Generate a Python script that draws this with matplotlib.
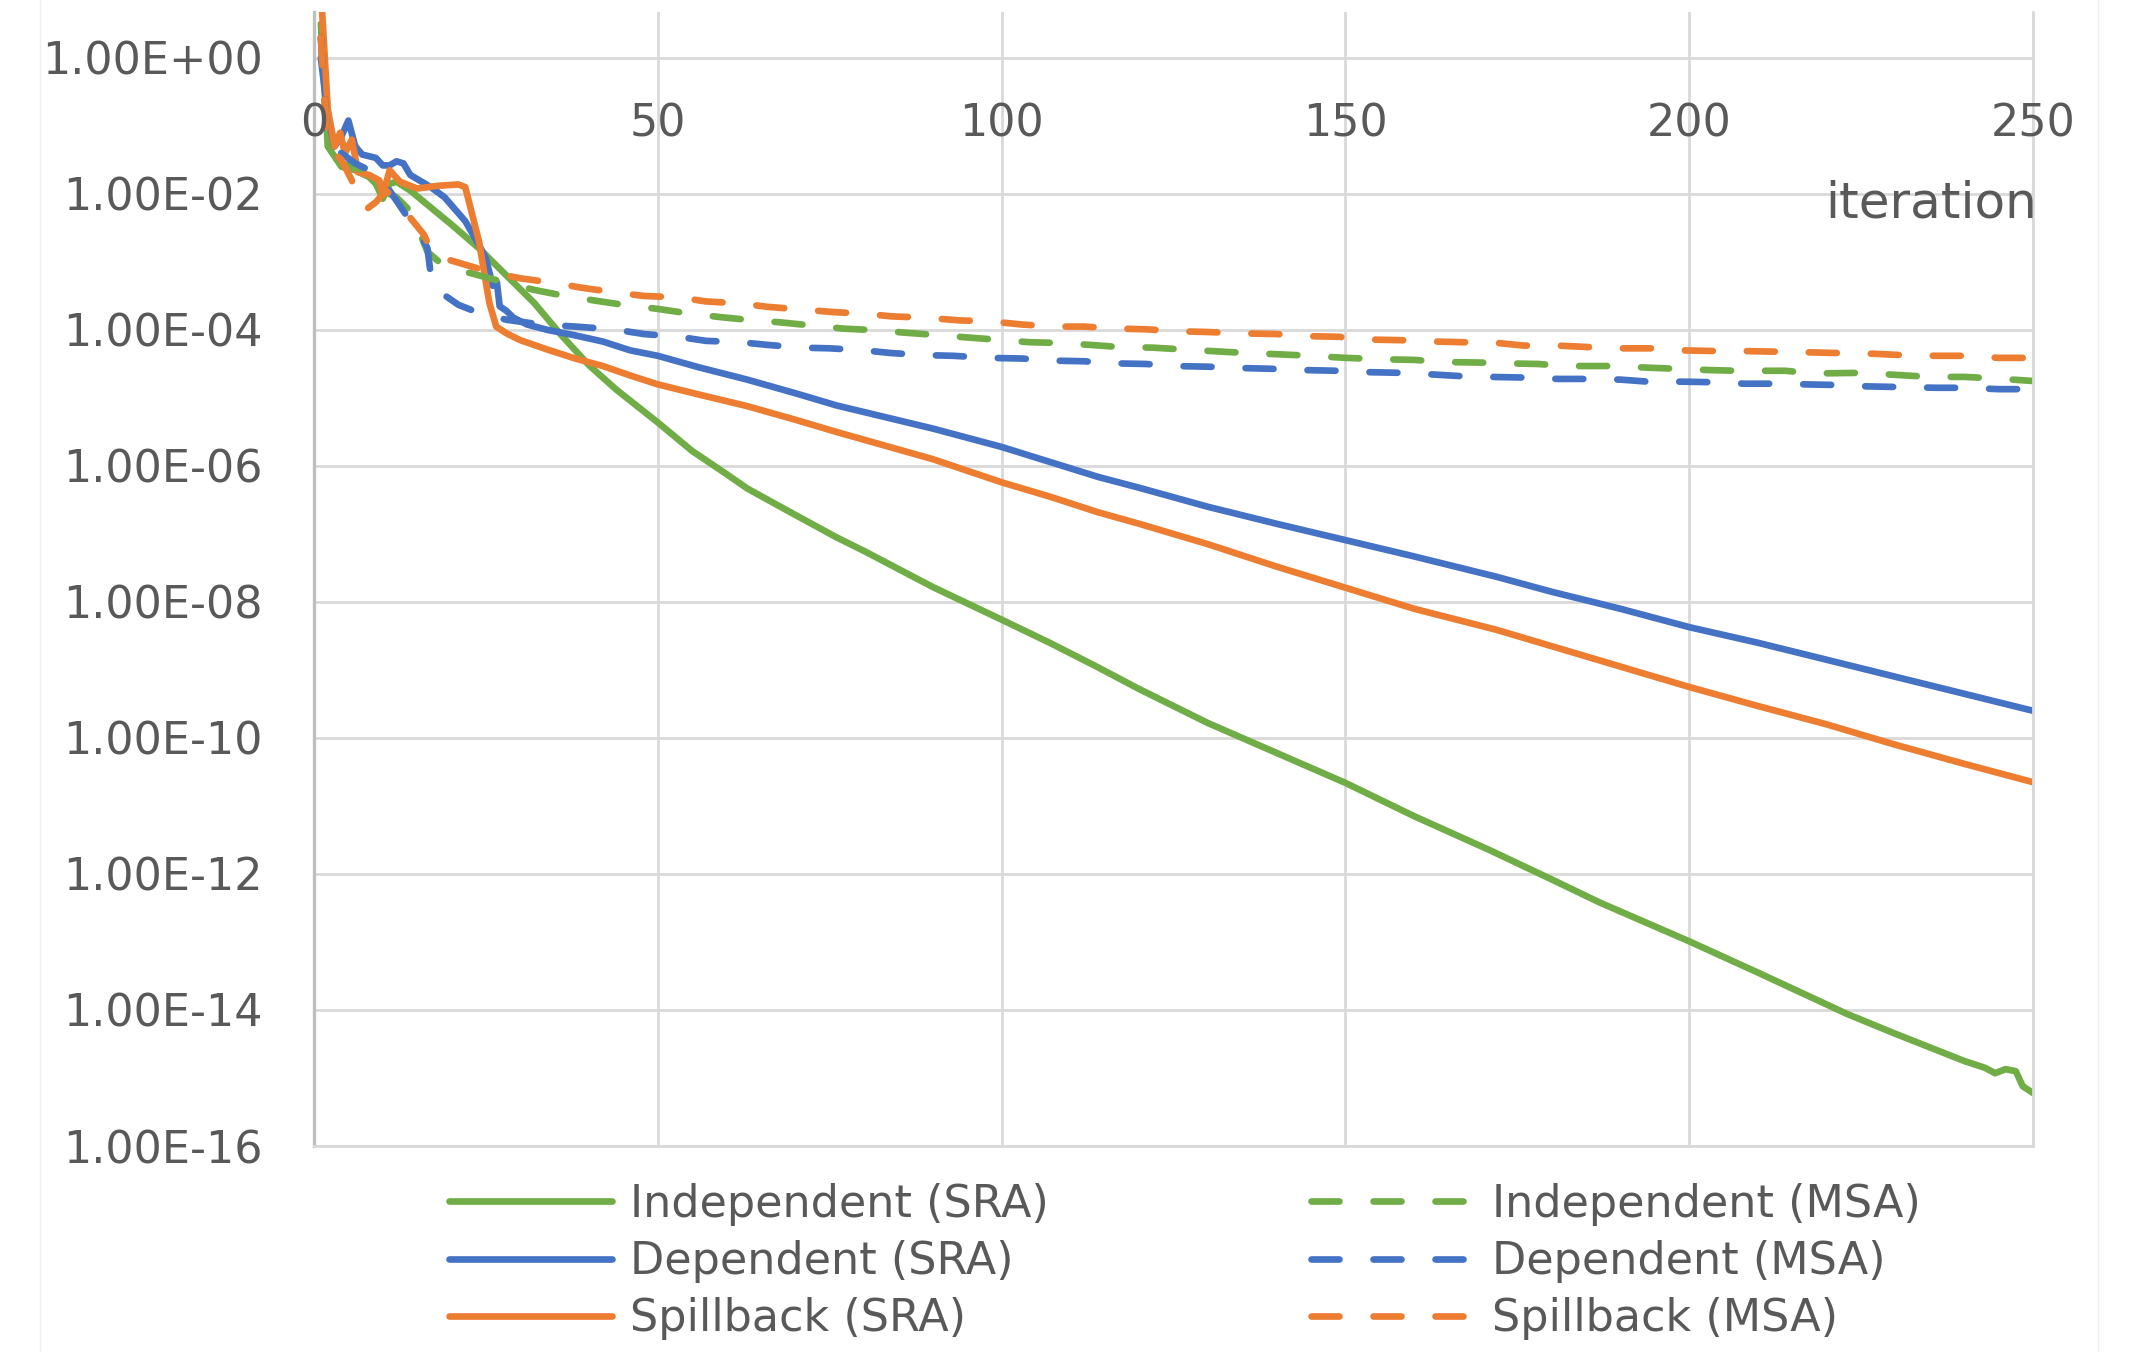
import numpy as np
import matplotlib
matplotlib.use("Agg")
import matplotlib.pyplot as plt
from matplotlib.lines import Line2D
from matplotlib.ticker import NullLocator

W, H, DPI = 2132, 1352, 100

# ---------------- data (values are log10 of the gap) ----------------
x_ticks = [0, 50, 100, 150, 200, 250]
y_tick_exps = [0, -2, -4, -6, -8, -10, -12, -14, -16]
y_tick_labels = ["1.00E+00", "1.00E-02", "1.00E-04", "1.00E-06", "1.00E-08",
                 "1.00E-10", "1.00E-12", "1.00E-14", "1.00E-16"]

ind_sra_iter = [1, 2, 3, 4, 6, 8, 9, 10, 11, 12, 14, 17, 20, 24, 28, 32, 36, 40, 44, 48,
                50, 55, 60, 63, 70, 76, 80, 90, 100, 107, 114, 120, 130, 140, 150, 160,
                171, 180, 187, 200, 210, 223, 230, 240, 243, 244.5, 246, 247.5, 248.5, 250]
ind_sra_exp = [0.5, -1.3, -1.45, -1.6, -1.65, -1.75, -1.85, -2.07, -1.85, -1.82, -1.95,
               -2.2, -2.45, -2.8, -3.2, -3.6, -4.08, -4.52, -4.88, -5.2, -5.36, -5.78,
               -6.12, -6.33, -6.72, -7.05, -7.25, -7.78, -8.26, -8.6, -8.96, -9.28, -9.78,
               -10.22, -10.66, -11.15, -11.65, -12.08, -12.42, -12.99, -13.45, -14.06,
               -14.35, -14.75, -14.85, -14.93, -14.87, -14.9, -15.12, -15.22]

dep_sra_iter = [1, 2, 3, 4, 5, 6, 7, 9, 10, 11, 12, 13, 14, 17, 19, 22, 24, 25, 26, 26.6,
                27, 28, 29, 31, 34, 38, 42, 46, 50, 56, 63, 70, 76, 83, 90, 100, 107, 114,
                120, 130, 140, 150, 160, 172, 180, 190, 200, 210, 220, 230, 240, 250]
dep_sra_exp = [0.0, -0.85, -1.3, -1.15, -0.92, -1.3, -1.42, -1.47, -1.58, -1.58, -1.52,
               -1.55, -1.72, -1.9, -2.05, -2.4, -2.75, -2.95, -3.35, -3.3, -3.65, -3.72,
               -3.82, -3.92, -4.0, -4.08, -4.17, -4.3, -4.38, -4.55, -4.73, -4.93, -5.11,
               -5.28, -5.45, -5.72, -5.94, -6.16, -6.32, -6.6, -6.85, -7.09, -7.33, -7.63,
               -7.85, -8.1, -8.37, -8.6, -8.85, -9.1, -9.35, -9.6]

spill_sra_iter = [1, 2, 3, 3.8, 4.5, 5.5, 6.4, 8, 9.5, 10, 11, 12.5, 15, 18, 21, 22, 24,
                  25.5, 26.5, 28, 30, 34, 38, 42, 46, 50, 56, 63, 70, 76, 83, 90, 100, 107,
                  114, 120, 130, 140, 150, 160, 172, 180, 190, 200, 210, 220, 230, 240, 250]
spill_sra_exp = [1.0, -0.75, -1.3, -1.1, -1.4, -1.2, -1.68, -1.72, -1.8, -2.02, -1.65,
                 -1.82, -1.92, -1.88, -1.86, -1.9, -2.7, -3.6, -3.95, -4.05, -4.15, -4.29,
                 -4.42, -4.53, -4.67, -4.8, -4.95, -5.12, -5.32, -5.5, -5.7, -5.9, -6.24,
                 -6.45, -6.68, -6.85, -7.15, -7.48, -7.79, -8.1, -8.41, -8.65, -8.95, -9.25,
                 -9.53, -9.8, -10.1, -10.38, -10.65]

ind_msa_iter = [1, 2, 4, 6, 8, 10, 12, 14, 15.5, 16.5, 19, 23, 27, 32, 36, 41, 45, 50, 54,
                59, 63, 68, 72, 77, 81, 86, 90, 95, 99, 104, 108, 113, 117, 122, 127, 134,
                143, 150, 155, 160, 164, 170, 173, 178, 182, 188, 193, 198, 203, 207, 214,
                218, 225, 230, 235, 240, 244, 250]
ind_msa_exp = [0.3, -1.35, -1.55, -1.6, -1.7, -1.95, -2.05, -2.25, -2.6, -2.85, -3.07,
               -3.17, -3.28, -3.41, -3.49, -3.57, -3.63, -3.69, -3.75, -3.81, -3.85, -3.89,
               -3.93, -3.98, -4.0, -4.04, -4.07, -4.11, -4.14, -4.18, -4.19, -4.22, -4.25,
               -4.26, -4.29, -4.33, -4.37, -4.41, -4.43, -4.44, -4.47, -4.48, -4.49, -4.5,
               -4.53, -4.53, -4.55, -4.57, -4.59, -4.6, -4.6, -4.64, -4.63, -4.66, -4.69,
               -4.69, -4.71, -4.75]

dep_msa_iter = [1, 2, 4, 6, 8, 10, 12, 14, 16, 16.5, 17, 18, 21, 24, 28, 33, 38, 43.5, 48,
                53, 57, 62, 66, 71, 75, 80, 84, 89, 93, 98, 103, 107, 112, 116, 121, 125,
                130, 135, 139, 144, 149, 153, 158, 162, 167, 171, 176, 181, 185, 190, 194,
                199, 204, 208, 213, 217, 222, 226, 231, 236, 240, 245, 250]
dep_msa_exp = [0.3, -1.3, -1.4, -1.55, -1.65, -1.8, -2.1, -2.4, -2.7, -2.8, -3.2, -3.42,
               -3.63, -3.75, -3.85, -3.92, -3.95, -3.99, -4.06, -4.1, -4.16, -4.18, -4.22,
               -4.26, -4.27, -4.3, -4.34, -4.37, -4.38, -4.41, -4.42, -4.45, -4.46, -4.49,
               -4.5, -4.53, -4.54, -4.56, -4.57, -4.59, -4.6, -4.62, -4.63, -4.65, -4.68,
               -4.69, -4.7, -4.72, -4.72, -4.73, -4.76, -4.76, -4.77, -4.79, -4.79, -4.8,
               -4.81, -4.83, -4.84, -4.85, -4.85, -4.87, -4.87]

spill_msa_iter = [1, 2, 4, 5.5, 6.4, 7.7, 9, 10.5, 12, 14, 16, 17.3, 20, 22, 26, 30, 35,
                  39, 44, 48, 53, 57, 62, 66, 71, 76, 80, 84, 89, 94, 98, 103, 108, 112,
                  117, 121, 126, 130, 135, 140, 144, 149, 153, 158, 163, 167, 172, 176, 181,
                  185, 190, 195, 199, 204, 208, 213, 218, 222, 227, 231, 236, 240, 245, 250]
spill_msa_exp = [0.3, -1.3, -1.5, -1.8, -2.09, -2.22, -2.12, -1.95, -2.1, -2.35, -2.6,
                 -2.9, -2.98, -3.04, -3.16, -3.24, -3.31, -3.38, -3.45, -3.5, -3.52, -3.58,
                 -3.61, -3.66, -3.7, -3.74, -3.76, -3.8, -3.82, -3.86, -3.87, -3.92, -3.95,
                 -3.95, -3.98, -3.99, -4.02, -4.03, -4.05, -4.06, -4.09, -4.1, -4.14, -4.15,
                 -4.17, -4.18, -4.19, -4.23, -4.23, -4.25, -4.27, -4.27, -4.3, -4.31, -4.31,
                 -4.32, -4.33, -4.34, -4.35, -4.37, -4.38, -4.38, -4.41, -4.41]

series = [
    ("Independent (SRA)", ind_sra_iter, ind_sra_exp, "#70AD47", "-"),
    ("Dependent (SRA)", dep_sra_iter, dep_sra_exp, "#4472C4", "-"),
    ("Spillback (SRA)", spill_sra_iter, spill_sra_exp, "#ED7D31", "-"),
    ("Independent (MSA)", ind_msa_iter, ind_msa_exp, "#70AD47", "--"),
    ("Dependent (MSA)", dep_msa_iter, dep_msa_exp, "#4472C4", "--"),
    ("Spillback (MSA)", spill_msa_iter, spill_msa_exp, "#ED7D31", "--"),
]

# ---------------- figure ----------------
FONT = "DejaVu Sans"
TXT = "#595959"
GRID = "#D9D9D9"
LW = 4.8
TICK_FS = 32

fig = plt.figure(figsize=(W / DPI, H / DPI), dpi=DPI)
fig.patch.set_facecolor("white")

# faint outer chart border
for xp in (40, 2098):
    fig.add_artist(Line2D([xp / W, xp / W], [0, 1], color="#EEEEF4", lw=1.0))

ax = fig.add_axes([314 / W, 1 - 1146 / H, (2033 - 314) / W, (1146 - 12) / H])
ax.set_yscale("log")
ax.set_xlim(0, 250)
ax.set_ylim(1e-16, 10 ** 0.676)

handles = []
for name, xs, es, col, ls in series:
    ys = 10.0 ** np.asarray(es)
    if ls == "-":
        ln, = ax.plot(xs, ys, color=col, lw=LW, solid_capstyle="round",
                      solid_joinstyle="round", label=name)
    else:
        ln, = ax.plot(xs, ys, color=col, lw=LW, dash_capstyle="round",
                      dash_joinstyle="round", label=name)
        ln.set_dashes((4.2, 5.1))
    handles.append(ln)

# grid & spines
ax.set_xticks(x_ticks)
ax.set_xticklabels([])
ax.set_yticks([10.0 ** e for e in y_tick_exps])
ax.set_yticklabels(y_tick_labels, fontsize=TICK_FS, color=TXT, family=FONT)
ax.yaxis.set_minor_locator(NullLocator())
ax.xaxis.set_minor_locator(NullLocator())
ax.tick_params(axis="both", length=0)
ax.tick_params(axis="y", pad=37)
ax.grid(True, color=GRID, lw=2.0)
ax.set_axisbelow(True)
ax.spines["top"].set_visible(False)
ax.spines["right"].set_color(GRID)
ax.spines["right"].set_linewidth(2.0)
ax.spines["bottom"].set_color(GRID)
ax.spines["bottom"].set_linewidth(2.0)
ax.spines["left"].set_color("#BFBFBF")
ax.spines["left"].set_linewidth(2.4)

# x tick labels sit below the horizontal axis crossing at 1
for t in x_ticks:
    ax.annotate(str(t), xy=(t, 1.0), xycoords="data", xytext=(0, -79),
                textcoords="offset pixels", ha="center", va="baseline",
                fontsize=TICK_FS, color=TXT, family=FONT, annotation_clip=False)

fig.text(2037 / W, 1 - 218 / H, "iteration", ha="right", va="baseline",
         fontsize=36, color=TXT, family=FONT)

leg = fig.legend(handles, [s[0] for s in series], ncol=2, loc="upper left",
                 bbox_to_anchor=(449 / W, 1 - 1183 / H), frameon=False,
                 prop={"family": FONT, "size": 32}, labelcolor=TXT,
                 handlelength=3.67, handletextpad=0.4, columnspacing=5.9,
                 labelspacing=0.32, borderpad=0, borderaxespad=0)

fig.savefig("out.png", dpi=DPI, facecolor="white")
